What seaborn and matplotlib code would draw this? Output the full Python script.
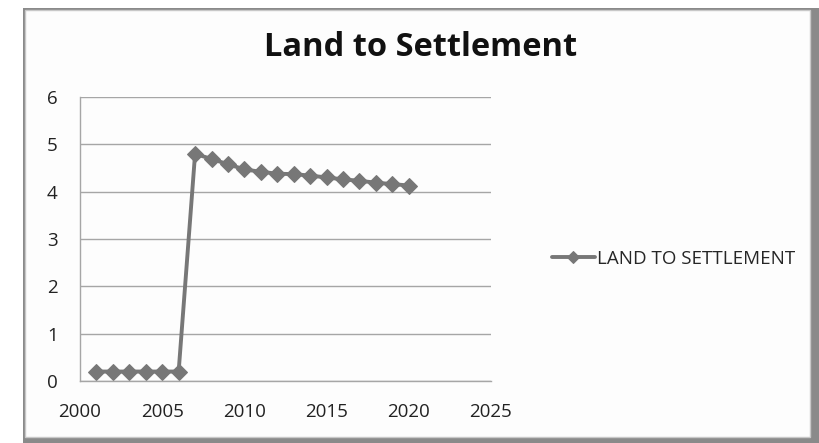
import matplotlib
matplotlib.use("Agg")
import matplotlib.pyplot as plt
from matplotlib.patches import Rectangle
import seaborn as sns
import pandas as pd

years = [2001, 2002, 2003, 2004, 2005, 2006, 2007, 2008, 2009, 2010,
         2011, 2012, 2013, 2014, 2015, 2016, 2017, 2018, 2019, 2020]
land_to_settlement = [0.2, 0.2, 0.2, 0.2, 0.2, 0.2, 4.80, 4.69, 4.58, 4.47,
                      4.42, 4.38, 4.37, 4.34, 4.30, 4.26, 4.23, 4.19, 4.16, 4.13]
series_name = "LAND TO SETTLEMENT"
title = "Land to Settlement"
x_ticks = [2000, 2005, 2010, 2015, 2020, 2025]
y_ticks = [0, 1, 2, 3, 4, 5, 6]

df = pd.DataFrame({"year": years, "value": land_to_settlement, "series": series_name})

sns.set_theme(style="white")
plt.rcParams["font.family"] = ["Open Sans", "DejaVu Sans"]

fig = plt.figure(figsize=(8.2, 4.43), dpi=100)
fig.patch.set_facecolor("white")

W, H = 820, 443
# chart frame with shadow on right and bottom, kept behind the axes
fig.patches.append(Rectangle((23 / W, 0), (W - 23) / W, (H - 8) / H,
                             transform=fig.transFigure, facecolor="#8a8a8a",
                             edgecolor="none", zorder=-2))
fig.patches.append(Rectangle((25 / W, 6 / H), (810 - 25) / W, (H - 10 - 6) / H,
                             transform=fig.transFigure, facecolor="#fdfdfd",
                             edgecolor="#c8c8c8", linewidth=1.0, zorder=-1))

ax = fig.add_axes([80 / W, 1 - 381 / H, (491 - 80) / W, (381 - 97) / H])
ax.set_facecolor("none")

sns.lineplot(data=df, x="year", y="value", hue="series", palette=["#777777"],
             marker="D", markersize=8, markeredgecolor="#777777",
             linewidth=2.8, ax=ax, legend=True)

ax.set_xlim(2000, 2025)
ax.set_ylim(0, 6)
ax.set_xticks(x_ticks)
ax.set_yticks(y_ticks)
ax.set_xlabel("")
ax.set_ylabel("")
ax.yaxis.grid(True, color="#a6a6a6", linewidth=1.0)
ax.xaxis.grid(False)
for side in ("top", "right"):
    ax.spines[side].set_visible(False)
for side in ("left", "bottom"):
    ax.spines[side].set_color("#a6a6a6")
    ax.spines[side].set_linewidth(1.0)
ax.tick_params(axis="both", which="both", length=5, width=1.0, color="#a6a6a6",
               labelsize=13.5, labelcolor="#222222", direction="out")
ax.tick_params(axis="x", pad=11)
ax.tick_params(axis="y", pad=11)

handles, labels = ax.get_legend_handles_labels()
ax.legend(handles, labels, loc="center left", bbox_to_anchor=(544 / W, 1 - 259 / H),
          bbox_transform=fig.transFigure, frameon=False, fontsize=13.5,
          handlelength=2.3, handletextpad=0.15, borderaxespad=0, markerscale=0.75)

fig.text(421 / W, 1 - 47 / H, title, ha="center", va="center",
         fontsize=23.5, fontweight="bold", color="#111111")

fig.savefig("out.png", dpi=100, facecolor=fig.get_facecolor())
